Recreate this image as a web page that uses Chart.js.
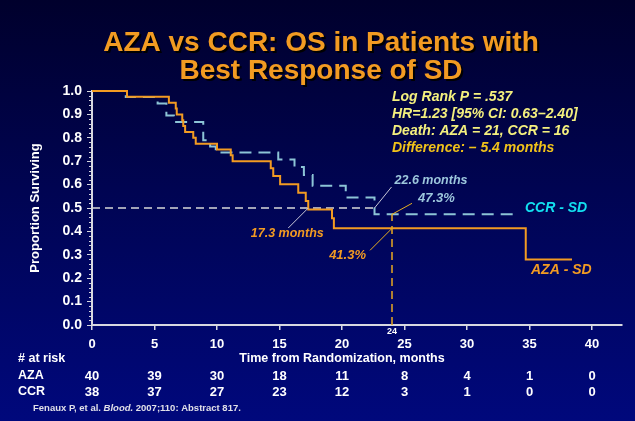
<!DOCTYPE html>
<html>
<head>
<meta charset="utf-8">
<title>AZA vs CCR: OS in Patients with Best Response of SD</title>
<script src="https://cdn.jsdelivr.net/npm/chart.js@4"></script>
<style>
  html, body { margin: 0; padding: 0; }
  body {
    width: 635px; height: 421px; overflow: hidden;
    background: linear-gradient(to bottom, #00002c 0%, #000452 45%, #00087c 100%);
  }
  canvas { display: block; }
</style>
</head>
<body>
<canvas id="km" width="635" height="421"></canvas>
<script>
// ---- values ----
const monthTicks = [0, 5, 10, 15, 20, 25, 30, 35, 40];
const atRiskAZA = [40, 39, 30, 18, 11, 8, 4, 1, 0];
const atRiskCCR = [38, 37, 27, 23, 12, 3, 1, 0, 0];

// Kaplan-Meier steps: survival after each event time
const azaMonths = [0, 2.8, 6.15, 6.7, 6.78, 7.22, 7.3, 7.45, 8.1, 8.3, 10.0, 11.1, 11.25, 14.3, 14.5, 15.05, 16.5, 17.1, 17.3, 19.2, 19.35, 34.7, 38.4];
const azaSurv   = [1.0, 0.975, 0.95, 0.925, 0.9, 0.875, 0.85, 0.825, 0.8, 0.775, 0.75, 0.725, 0.7, 0.67, 0.637, 0.601, 0.565, 0.53, 0.494, 0.456, 0.413, 0.28, 0.28];

const ccrMonths = [0, 2.7, 5.25, 5.95, 6.55, 8.9, 9.45, 9.9, 14.9, 16.2, 16.95, 17.65, 20.3, 22.6, 34.0];
const ccrSurv   = [1.0, 0.974, 0.947, 0.895, 0.868, 0.789, 0.763, 0.737, 0.707, 0.675, 0.641, 0.595, 0.545, 0.473, 0.473];

const medianMonths = [17.3, 22.6];      // AZA, CCR
const landmarkMonth = 24;
const landmarkSurv = [0.413, 0.473];    // AZA, CCR at 24 months
const survTicks = [0, 0.1, 0.2, 0.3, 0.4, 0.5, 0.6, 0.7, 0.8, 0.9, 1.0];

const statLines = ['Log Rank P = .537', 'HR=1.23 [95% CI: 0.63\u20132.40]', 'Death: AZA = 21, CCR = 16', 'Difference: \u2013 5.4 months'];
const titleLines = ['AZA vs CCR: OS in Patients with', 'Best Response of SD'];

// ---- colours ----
const ORANGE = '#f29b22';
const CCR_BLUE = '#8cc4d6';
const LABEL_BLUE = '#9cc6dc';
const AXIS = '#d8d8e0';
const FONT = '"Liberation Sans", Arial, sans-serif';

const toPoints = (xs, ys) => xs.map((m, i) => ({ x: m, y: ys[i] }));

function text(ctx, str, x, y, font, color, align, maxWidth) {
    ctx.font = font;
    ctx.fillStyle = color;
    ctx.textAlign = align || 'left';
    ctx.textBaseline = 'middle';
    if (maxWidth) ctx.fillText(str, x, y, maxWidth);
    else ctx.fillText(str, x, y);
}

function pointer(ctx, x0, y0, x1, y1, color) {
    ctx.beginPath();
    ctx.moveTo(x0, y0);
    ctx.lineTo(x1, y1);
    ctx.strokeStyle = color;
    ctx.lineWidth = 1;
    ctx.stroke();
}

// =====================================================
// Overlay: title, minor ticks, notes, at-risk table
// =====================================================
const overlay = {
    id: 'overlay',
    afterDraw(chart) {
        const { ctx, scales: { x, y } } = chart;
        ctx.save();

        // title with drop shadow
        ctx.shadowColor = 'rgba(0,0,0,0.95)';
        ctx.shadowOffsetX = 2;
        ctx.shadowOffsetY = 2;
        titleLines.forEach((line, i) => {
            text(ctx, line, 321, 43 + i * 28, 'bold 28px ' + FONT, ORANGE, 'center');
        });
        ctx.shadowColor = 'transparent';

        // minor ticks on the y axis
        ctx.strokeStyle = AXIS;
        ctx.lineWidth = 1;
        for (let i = 0; i <= 50; i++) {
            if (i % 5 === 0) continue;
            const py = Math.round(y.getPixelForValue(i / 50)) + 0.5;
            ctx.beginPath();
            ctx.moveTo(x.left - 3, py);
            ctx.lineTo(x.left, py);
            ctx.stroke();
        }

        // stats block
        statLines.forEach((line, i) => {
            const col = i === statLines.length - 1 ? '#f0c21a' : '#f4f07e';
            text(ctx, line, 392, 97 + i * 17, 'italic bold 14px ' + FONT, col, 'left');
        });

        // median pointers
        const ax = x.getPixelForValue(medianMonths[0]), ay = y.getPixelForValue(0.5);
        pointer(ctx, ax, ay, ax - 20, ay + 20, '#c8c8d8');
        text(ctx, medianMonths[0] + ' months', ax - 21, ay + 25, 'italic bold 13px ' + FONT, ORANGE, 'center', 73);

        const cx = x.getPixelForValue(medianMonths[1]), cy = y.getPixelForValue(0.5);
        pointer(ctx, cx, cy, cx + 17, cy - 21, '#c8c8d8');
        text(ctx, medianMonths[1] + ' months', cx + 20, cy - 28, 'italic bold 13px ' + FONT, LABEL_BLUE, 'left', 73);

        // 24-month landmark pointers
        const lx = x.getPixelForValue(landmarkMonth);
        const ly1 = y.getPixelForValue(landmarkSurv[1]);
        pointer(ctx, lx, ly1, lx + 20, ly1 - 11, '#e8b020');
        text(ctx, (landmarkSurv[1] * 100).toFixed(1) + '%', lx + 26, ly1 - 16, 'italic bold 13px ' + FONT, LABEL_BLUE, 'left');

        const ly0 = y.getPixelForValue(landmarkSurv[0]);
        pointer(ctx, lx, ly0, lx - 22, ly0 + 22, '#e8b020');
        text(ctx, (landmarkSurv[0] * 100).toFixed(1) + '%', lx - 26, ly0 + 27, 'italic bold 13px ' + FONT, ORANGE, 'right');

        text(ctx, String(landmarkMonth), lx, y.bottom + 7, 'bold 9px ' + FONT, '#ffffff', 'center');

        // series labels next to curve ends
        const ccrEnd = ccrMonths.length - 1, azaEnd = azaMonths.length - 1;
        text(ctx, 'CCR - SD', x.getPixelForValue(ccrMonths[ccrEnd]) + 8, y.getPixelForValue(ccrSurv[ccrEnd]) - 6,
             'italic bold 14px ' + FONT, '#12e0f0', 'left');
        text(ctx, 'AZA - SD', x.getPixelForValue(azaMonths[azaEnd]) - 41, y.getPixelForValue(azaSurv[azaEnd]) + 11,
             'italic bold 14px ' + FONT, ORANGE, 'left');

        // x title and number at risk table
        text(ctx, 'Time from Randomization, months', (x.getPixelForValue(0) + x.getPixelForValue(40)) / 2, 359,
             'bold 12.5px ' + FONT, '#ffffff', 'center');
        text(ctx, '# at risk', 18, 359, 'bold 12.5px ' + FONT, '#ffffff', 'left');
        text(ctx, 'AZA', 18, 376, 'bold 12.5px ' + FONT, '#ffffff', 'left');
        text(ctx, 'CCR', 18, 392, 'bold 12.5px ' + FONT, '#ffffff', 'left');
        monthTicks.forEach((m, i) => {
            const px = x.getPixelForValue(m);
            text(ctx, String(atRiskAZA[i]), px, 376, 'bold 13px ' + FONT, '#ffffff', 'center');
            text(ctx, String(atRiskCCR[i]), px, 392, 'bold 13px ' + FONT, '#ffffff', 'center');
        });

        // reference
        ctx.fillStyle = '#e0e0e8';
        ctx.textAlign = 'left';
        ctx.textBaseline = 'middle';
        let fx = 33;
        const parts = [['Fenaux P, et al. ', ''], ['Blood.', 'italic '], [' 2007;110: Abstract 817.', '']];
        parts.forEach(([s, style]) => {
            ctx.font = style + 'bold 9.5px ' + FONT;
            ctx.fillText(s, fx, 408);
            fx += ctx.measureText(s).width;
        });

        ctx.restore();
    }
};

new Chart(document.getElementById('km'), {
    type: 'line',
    data: {
        datasets: [
            {
                label: 'AZA - SD',
                data: toPoints(azaMonths, azaSurv),
                stepped: true,
                borderColor: ORANGE,
                borderWidth: 2,
                pointRadius: 0,
                clip: false,
                order: 1
            },
            {
                label: 'CCR - SD',
                data: toPoints(ccrMonths, ccrSurv),
                stepped: true,
                borderColor: CCR_BLUE,
                borderWidth: 2,
                borderDash: [12, 7],
                pointRadius: 0,
                clip: false,
                order: 2
            },
            {
                label: 'median',
                data: [{ x: 0, y: 0.5 }, { x: medianMonths[1], y: 0.5 }],
                borderColor: '#d8d8d8',
                borderWidth: 1.5,
                borderDash: [8, 5],
                pointRadius: 0,
                order: 3
            },
            {
                label: 'landmark',
                data: [{ x: landmarkMonth, y: 0 }, { x: landmarkMonth, y: landmarkSurv[1] }],
                borderColor: '#e8a820',
                borderWidth: 1.5,
                borderDash: [8, 5],
                pointRadius: 0,
                order: 0
            }
        ]
    },
    options: {
        responsive: false,
        animation: false,
        devicePixelRatio: 1,
        layout: { padding: { top: 91, right: 13, bottom: 0, left: 0 } },
        plugins: { legend: { display: false }, tooltip: { enabled: false } },
        scales: {
            x: {
                type: 'linear',
                min: 0,
                max: 42.4,
                afterBuildTicks: (s) => { s.ticks = monthTicks.map(v => ({ value: v })); },
                afterFit: (s) => { s.height = 96; },
                ticks: {
                    autoSkip: false,
                    maxRotation: 0,
                    padding: 7,
                    color: '#ffffff',
                    font: { family: FONT, size: 13, weight: 'bold' }
                },
                grid: { drawOnChartArea: false, tickLength: 5, color: AXIS, lineWidth: 1.5 },
                border: { display: true, color: AXIS, width: 2 }
            },
            y: {
                min: 0,
                max: 1,
                afterBuildTicks: (s) => { s.ticks = survTicks.map(v => ({ value: v })); },
                afterFit: (s) => { s.width = 92; },
                ticks: {
                    padding: 5,
                    color: '#ffffff',
                    font: { family: FONT, size: 14, weight: 'bold' },
                    callback: (v) => Number(v).toFixed(1)
                },
                title: {
                    display: true,
                    text: 'Proportion Surviving',
                    color: '#ffffff',
                    font: { family: FONT, size: 13, weight: 'bold' },
                    padding: { top: 28, bottom: 0 }
                },
                grid: { drawOnChartArea: false, tickLength: 5, color: AXIS, lineWidth: 1 },
                border: { display: true, color: AXIS, width: 2 }
            }
        }
    },
    plugins: [overlay]
});
</script>
</body>
</html>
